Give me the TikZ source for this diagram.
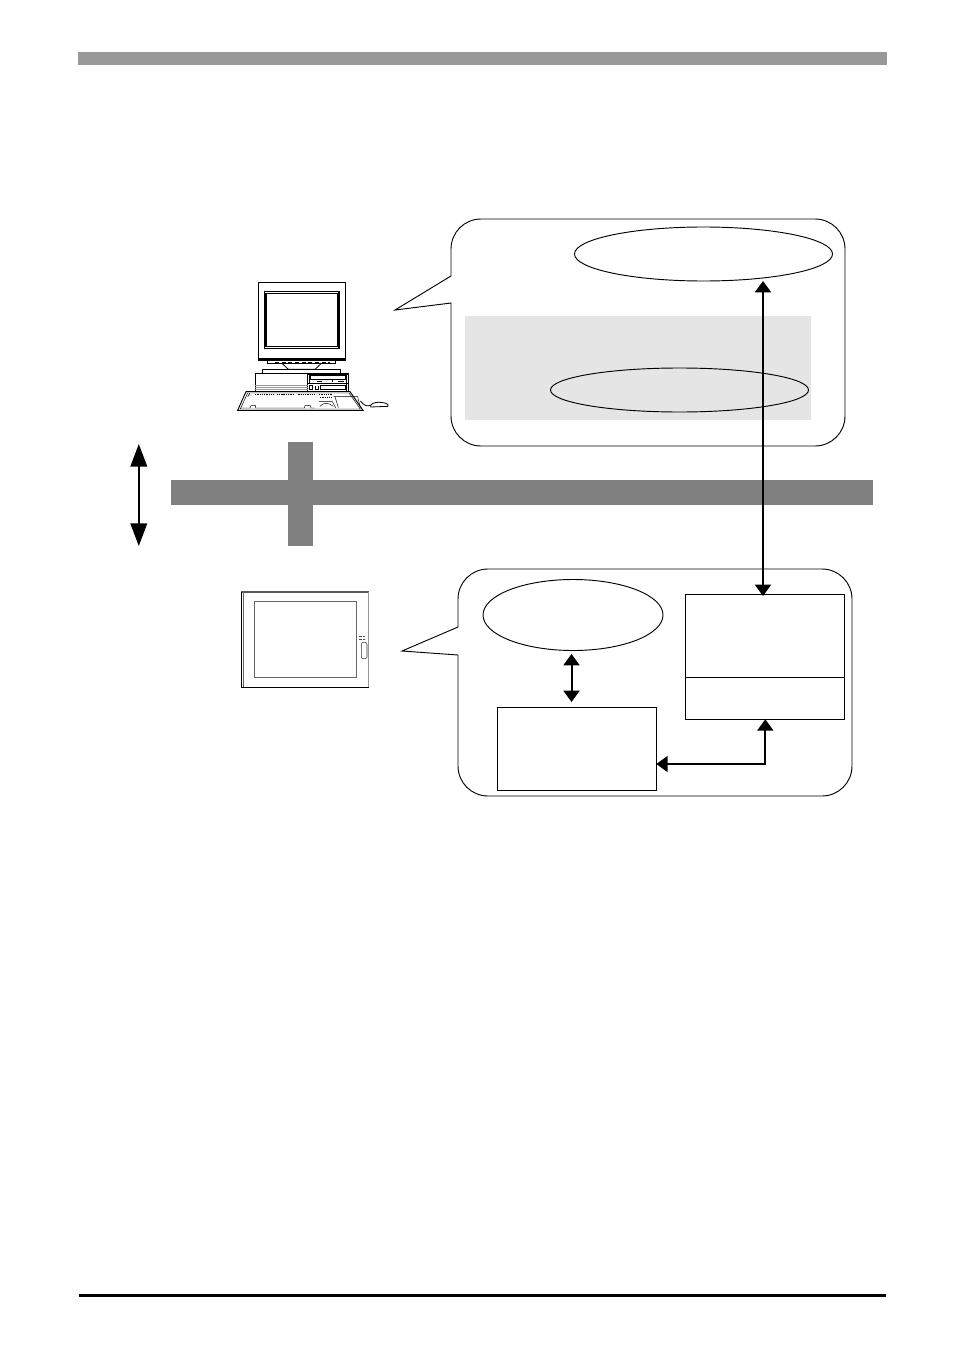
\documentclass[tikz,border=0pt]{standalone}
\usetikzlibrary{arrows.meta,shapes.geometric}
\tikzset{
  px/.style={x=0.75pt,y=-0.75pt},
  bubble/.style={draw=black,line width=0.7pt,fill=white,line join=miter},
  oval/.style={ellipse,draw=black,line width=0.7pt,inner sep=0pt,outer sep=0pt},
  boxnode/.style={rectangle,draw=black,line width=0.7pt,fill=white,inner sep=0pt,outer sep=0pt},
  linkarrow/.style={line width=1.5pt,{Triangle[length=8.5pt,width=12pt]}-{Triangle[length=8.5pt,width=12pt]}},
  bigarrow/.style={line width=1.3pt,{Triangle[length=17pt,width=12.5pt]}-{Triangle[length=17pt,width=12.5pt]}},
  zoomA/.style={shift={(220,270)},x=0.25pt,y=-0.25pt},
  zoomB/.style={shift={(230,580)},x=0.25pt,y=-0.25pt},
  zoomC/.style={shift={(235,365)},x=0.25pt,y=-0.25pt},
}
\begin{document}
\begin{tikzpicture}[px]
\useasboundingbox (0,0) rectangle (954,1348);
\fill[white] (0,0) rectangle (954,1348);
% page furniture
\fill[black!40] (78,52) rectangle (887,65);
\fill[black] (79,1294) rectangle (886,1296.5);
% bus
\fill[black!50] (171,480) rectangle (873,505);
\fill[black!50] (288,442) rectangle (313,546);
% left arrow
\coordinate (la) at (138.8,444);
\coordinate (lb) at (138.8,546);
\draw[bigarrow] (la) -- (lb);
% upper bubble
\draw[bubble] (481,219) -- (815,219) .. controls (831.6,219) and (845,232.4) .. (845,249) -- (845,416)
  .. controls (845,432.6) and (831.6,446) .. (815,446) -- (481,446)
  .. controls (464.4,446) and (451,432.6) .. (451,416) -- (451,303) -- (395,310) -- (451,276) -- (451,249)
  .. controls (451,232.4) and (464.4,219) .. (481,219) -- cycle;
\fill[black!10] (465,316) rectangle (811,420);
\node[oval,minimum width=258*0.75pt,minimum height=54*0.75pt] (ellTop) at (703.5,254) {};
\node[oval,minimum width=258*0.75pt,minimum height=44*0.75pt] (ellMid) at (679.5,390) {};
% lower bubble
\draw[bubble] (488,569) -- (822,569) .. controls (838.6,569) and (852,582.4) .. (852,599) -- (852,766)
  .. controls (852,782.6) and (838.6,796) .. (822,796) -- (488,796)
  .. controls (471.4,796) and (458,782.6) .. (458,766) -- (458,655) -- (402,651) -- (458,627) -- (458,599)
  .. controls (458,582.4) and (471.4,569) .. (488,569) -- cycle;
\node[oval,minimum width=180*0.75pt,minimum height=71*0.75pt] (ellLow) at (573,615) {};
\node[boxnode,minimum width=159*0.75pt,minimum height=125*0.75pt] (boxR) at (764.8,656.8) {};
\coordinate (divL) at (boxR.west |- 0,677.3);
\coordinate (divR) at (boxR.east |- 0,677.3);
\draw[line width=0.7pt] (divL) -- (divR);
\node[boxnode,minimum width=159*0.75pt,minimum height=83*0.75pt] (boxL) at (576.8,748.8) {};
% connectors
\coordinate (v1) at (763,281);
\coordinate (v2) at (763,596);
\draw[linkarrow] (v1) -- (v2);
\coordinate (s1) at (571.5,654);
\coordinate (s2) at (571.5,702);
\draw[linkarrow] (s1) -- (s2);
\coordinate (elbow) at (765.3,764);
\draw[linkarrow,line join=miter] (boxL.east |- elbow) -- (elbow) -- (elbow |- boxR.south);
% computer: monitor
\begin{scope}[zoomA,line width=0.6pt]
 \draw[line width=0.8pt] (115,37) rectangle (377,270);
 \draw[line width=0.7pt] (115,264) -- (377,264);
 \draw[line width=0.8pt] (133,64) rectangle (357,235);
 \draw[line width=0.8pt] (138,70) rectangle (352,229);
 \draw[line width=0.7pt] (142,270) -- (142,281) -- (347,281) -- (347,270);
 \draw[line width=1.1pt,densely dashed] (165,277) -- (330,277);
 \draw (187,281) -- (205,298) -- (285,298) -- (303,281);
\end{scope}
% computer: base unit, keyboard, mouse
\begin{scope}[zoomC,line width=0.5pt]
 \draw (82,13) rectangle (317,24);
 \fill (82,23) rectangle (317,27);
 \draw[line width=0.7pt] (60,24) rectangle (340,82);
 \draw[line width=0.7pt] (218,24) -- (218,82);
 \draw[line width=0.9pt] (335,24) -- (335,82);
 \draw[black!40,line width=0.7pt] (60,60) -- (218,60) (60,67) -- (218,67) (60,74) -- (218,74);
 \fill (218,28) rectangle (340,31);
 \draw (226,31) rectangle (332,42);
 \draw (224,31) -- (224,55);
 \draw[line width=0.8pt] (246,50) -- (262,50) (290,48) -- (294,48) (310,50) -- (326,50);
 \fill (218,55) rectangle (340,58);
 \draw (257,62) rectangle (332,72);
 \fill (265,72) rectangle (327,76);
 \draw (222,62) rectangle (232,72) (242,62) -- (242,72) -- (250,72) -- (250,62);
 % keyboard
 \draw[line width=0.7pt,fill=white] (33,80) -- (345,80) -- (384,136) -- (8,136) -- cycle;
 \draw[line width=0.35pt] (38,84) -- (342,84) -- (376,132) -- (16,132) -- cycle;
 \draw[dash pattern=on 1pt off 0.7pt,line width=1pt] (60,89) -- (115,89) (125,89) -- (178,89) (190,89) -- (240,89) (252,89) -- (292,89);
 \draw[dash pattern=on 1pt off 0.7pt,line width=0.7pt] (255,98) -- (292,98);
 \draw[line width=0.35pt] (38,90) -- (50,90) (44,84) -- (38,96);
 \draw[line width=0.35pt] (14,129) -- (45,129) -- (48,122) -- (62,122) -- (62,129) -- (208,129) -- (210,122) -- (226,122) -- (228,129) -- (240,129);
 \draw[line width=0.35pt] (252,110) -- (292,110) -- (302,128) (255,124) .. controls (265,112) and (280,112) .. (295,124);
 \draw[line width=0.35pt] (296,95) -- (368,95) -- (376,128) (300,95) -- (310,128);
 % mouse
 \draw[line width=0.6pt] (376,108) .. controls (388,122) and (396,126) .. (408,120);
 \draw[line width=0.6pt] (407,122) .. controls (412,108) and (450,110) .. (459,119) -- (459,124) -- (407,126) -- cycle;
\end{scope}
% panel
\begin{scope}[zoomB]
 \draw[black!65,line width=0.8pt] (34,36) -- (416,36);
 \draw[black,line width=0.6pt] (34,36) -- (34,322) -- (416,322);
 \draw[black!40,line width=1.1pt] (416,36) -- (416,322);
 \draw[black!60,line width=0.7pt] (39,36) -- (39,322);
 \draw[black!60,line width=1pt] (74,64) rectangle (379,292);
 \draw[black!70,line width=0.4pt] (388,168) -- (396,168) (400,168) -- (406,168) (388,177) -- (396,177) (400,177) -- (406,177);
 \draw[black!80,line width=0.4pt,rounded corners=1.5pt] (394,187) rectangle (411,236);
\end{scope}
\end{tikzpicture}
\end{document}
